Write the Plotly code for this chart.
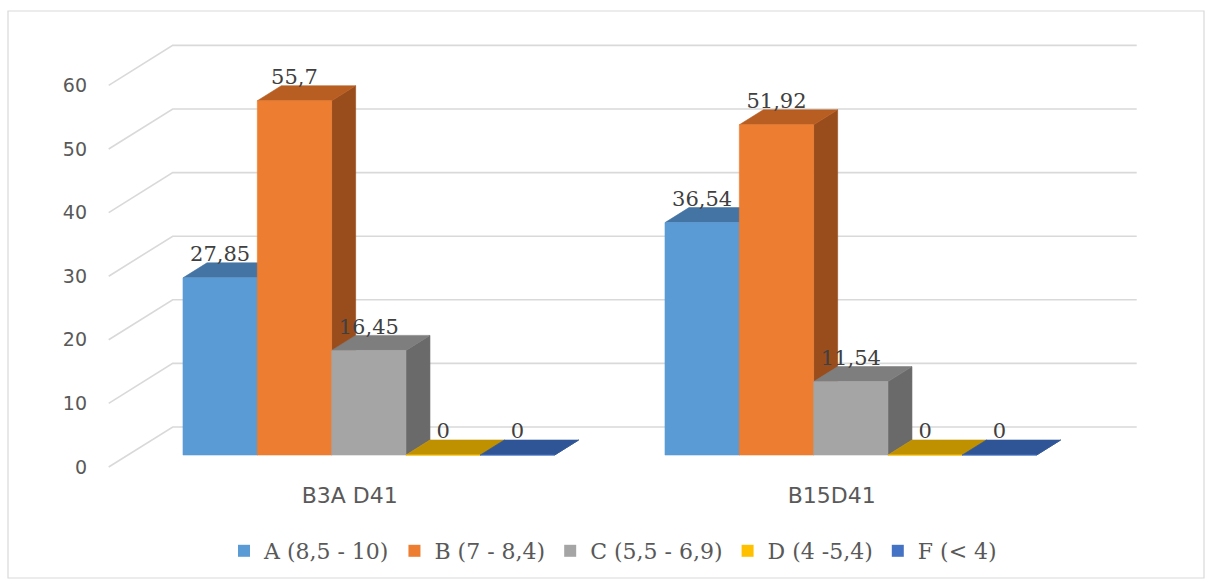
import plotly.graph_objects as go

# ---------------- data ----------------
categories = ["B3A D41", "B15D41"]
series_names = ["A (8,5 - 10)", "B (7 - 8,4)", "C (5,5 - 6,9)", "D (4 -5,4)", "F (< 4)"]
values_A = [27.85, 36.54]
values_B = [55.7, 51.92]
values_C = [16.45, 11.54]
values_D = [0, 0]
values_F = [0, 0]
label_A = ["27,85", "36,54"]
label_B = ["55,7", "51,92"]
label_C = ["16,45", "11,54"]
label_D = ["0", "0"]
label_F = ["0", "0"]
y_ticks = [0, 10, 20, 30, 40, 50, 60]

front_colors = ["#5B9BD5", "#ED7D31", "#A5A5A5", "#FFC000", "#4472C4"]
top_colors = ["#4474A3", "#B95E22", "#7E7E7E", "#BF9000", "#2F5597"]
side_colors = ["#3A6590", "#9A4D1C", "#6A6A6A", "#9E7700", "#264780"]

all_values = [values_A, values_B, values_C, values_D, values_F]
all_labels = [label_A, label_B, label_C, label_D, label_F]

# ---------------- pseudo-3D projection (axis units) ----------------
PX_PER_X = 482.0      # pixels per category unit
PX_PER_V = 6.36       # pixels per value unit
DXT = 64.0 / PX_PER_X  # full depth shift in x units
DYT = 40.0 / PX_PER_V  # full depth shift in value units
T_FRONT, T_BACK = 0.3, 0.675
GAP = 0.1143
BW = 0.1542

def proj(x, v, t):
    return x + t * DXT, v + t * DYT

fig = go.Figure()

# gridlines (left wall diagonal + back wall)
gx, gy = [], []
for v in y_ticks:
    p0 = proj(0, v, 0)
    p1 = proj(0, v, 1)
    p2 = proj(len(categories), v, 1)
    gx += [p0[0], p1[0], p2[0], None]
    gy += [p0[1], p1[1], p2[1], None]
fig.add_trace(go.Scatter(x=gx, y=gy, mode="lines", line=dict(color="#D9D9D9", width=1.6),
                         hoverinfo="skip", showlegend=False))

# bars
dd = T_BACK - T_FRONT
for s, vals in enumerate(all_values):
    fx, fy, tx, ty, sx, sy = [], [], [], [], [], []
    for c, v in enumerate(vals):
        x0, yb = proj(c + GAP + s * BW, 0, T_FRONT)
        x1 = x0 + BW
        yt = yb + v
        ddx, ddy = dd * DXT, dd * DYT
        fx += [x0, x1, x1, x0, x0, None]
        fy += [yb, yb, yt, yt, yb, None]
        tx += [x0, x1, x1 + ddx, x0 + ddx, x0, None]
        ty += [yt, yt, yt + ddy, yt + ddy, yt, None]
        sx += [x1, x1 + ddx, x1 + ddx, x1, x1, None]
        sy += [yb, yb + ddy, yt + ddy, yt, yb, None]
    for xs, ys, col in [(sx, sy, side_colors[s]), (tx, ty, top_colors[s]), (fx, fy, front_colors[s])]:
        fig.add_trace(go.Scatter(x=xs, y=ys, mode="lines", fill="toself", fillcolor=col,
                                 line=dict(color=col, width=0.6), hoverinfo="skip",
                                 showlegend=False))

# data labels
for s, vals in enumerate(all_values):
    lx, ly = [], []
    for c, v in enumerate(vals):
        x0, yb = proj(c + GAP + s * BW, 0, T_FRONT)
        lx.append(x0 + BW / 2)
        ly.append(yb + v + 22.0 / PX_PER_V)
    fig.add_trace(go.Scatter(x=lx, y=ly, mode="text", text=all_labels[s],
                             textposition="middle center",
                             textfont=dict(family="DejaVu Serif", size=21, color="#404040"),
                             hoverinfo="skip", showlegend=False))

# legend entries
for s, name in enumerate(series_names):
    fig.add_trace(go.Scatter(x=[None], y=[None], mode="markers", name=name,
                             marker=dict(symbol="square", size=12, color=front_colors[s])))

# ---------------- layout ----------------
L, R, T, B = 100, 1150, 30, 472
W, H = 1206, 583
x_lo = (L - 108.7) / PX_PER_X
x_hi = (R - 108.7) / PX_PER_X
y_lo = (467 - B) / PX_PER_V
y_hi = (467 - T) / PX_PER_V

def paper_x(px):
    return (px - L) / (R - L)

def paper_y(py):
    return (B - py) / (B - T)

fig.update_layout(
    width=W, height=H,
    margin=dict(l=L, r=W - R, t=T, b=H - B, pad=0),
    paper_bgcolor="white", plot_bgcolor="white",
    xaxis=dict(range=[x_lo, x_hi], showgrid=False, zeroline=False, showline=False,
               tickmode="array", tickvals=[c + 0.5 for c in range(len(categories))],
               ticktext=categories, ticks="", ticklabelstandoff=8,
               tickfont=dict(family="DejaVu Sans", size=22, color="#595959"), fixedrange=True),
    yaxis=dict(range=[y_lo, y_hi], showgrid=False, zeroline=False, showline=False,
               tickmode="array", tickvals=y_ticks, ticktext=[str(v) for v in y_ticks],
               ticks="", ticklabelstandoff=12,
               tickfont=dict(family="DejaVu Sans", size=19, color="#595959"), fixedrange=True),
    legend=dict(orientation="h", xref="container", yref="container",
                x=613 / W, y=1 - 551 / H, xanchor="center", yanchor="middle",
                font=dict(family="DejaVu Serif", size=22, color="#595959"),
                itemwidth=30, bgcolor="rgba(0,0,0,0)"),
    shapes=[dict(type="rect", xref="paper", yref="paper",
                 x0=paper_x(8), x1=paper_x(1204), y0=paper_y(578), y1=paper_y(11),
                 line=dict(color="#D9D9D9", width=1.2), fillcolor="rgba(0,0,0,0)", layer="below")],
    showlegend=True,
)

fig.write_html("out.html")
